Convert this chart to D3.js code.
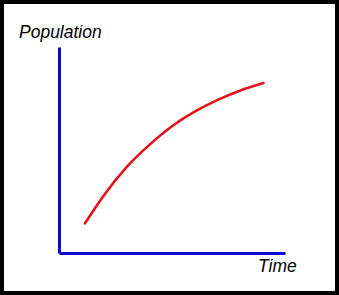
<!DOCTYPE html>
<html>
<head>
<meta charset="utf-8">
<script src="https://cdn.jsdelivr.net/npm/d3@7"></script>
<style>
  html, body { margin: 0; padding: 0; background: #fff; }
  svg { display: block; }
  .label { font-family: "Liberation Sans", Arial, sans-serif; font-style: italic; font-size: 17.5px; fill: #000; }
</style>
</head>
<body>
<svg width="339" height="295"></svg>
<script>
// Sketch of population growth over time (no ticks, just a curve)
var time = [1.15, 2, 3, 4, 5, 6, 7, 8, 9.05];
var population = [14.4, 28.2, 41.8, 52.5, 61.5, 68.6, 74.2, 78.8, 82.5];
var xTitle = "Time";
var yTitle = "Population";

var svg = d3.select('svg');
var W = +svg.attr("width"), H = +svg.attr("height");

// black frame
svg.append("rect")
    .attr("x", 2).attr("y", 2)
    .attr("width", W - 4).attr("height", H - 4)
    .attr("fill", "#fff")
    .attr("stroke", "#000")
    .attr("stroke-width", 4);

var margin = {top: 47, right: 54, bottom: 42, left: 59};
var width = W - margin.left - margin.right;
var height = H - margin.top - margin.bottom;

var g = svg.append("g")
    .attr("transform", "translate(" + margin.left + "," + margin.top + ")");

var x = d3.scaleLinear().domain([0, 10]).range([0, width]);
var y = d3.scaleLinear().domain([0, 100]).range([height, 0]);

var data = time.map(function(t, i) { return [t, population[i]]; });

g.append("path")
    .datum(data)
    .attr("fill", "none")
    .attr("stroke", "#e4121a")
    .attr("stroke-width", 2.6)
    .attr("stroke-linecap", "round")
    .attr("stroke-linejoin", "round")
    .attr("d", d3.line()
        .x(function(d) { return x(d[0]); })
        .y(function(d) { return y(d[1]); })
        .curve(d3.curveNatural));

// axes: plain lines, no ticks
g.append("g")
    .attr("transform", "translate(0," + height + ")")
    .call(d3.axisBottom(x).ticks(0).tickSizeOuter(0))
    .call(function(a) { a.select(".domain").attr("stroke", "#0a0ad0").attr("stroke-width", 3); });

g.append("g")
    .call(d3.axisLeft(y).ticks(0).tickSizeOuter(0))
    .call(function(a) { a.select(".domain").attr("stroke", "#0a0ad0").attr("stroke-width", 3); });

svg.append("text")
    .attr("class", "label")
    .attr("x", 19).attr("y", 38)
    .text(yTitle);

svg.append("text")
    .attr("class", "label")
    .attr("x", 258).attr("y", 272)
    .text(xTitle);
</script>
</body>
</html>
